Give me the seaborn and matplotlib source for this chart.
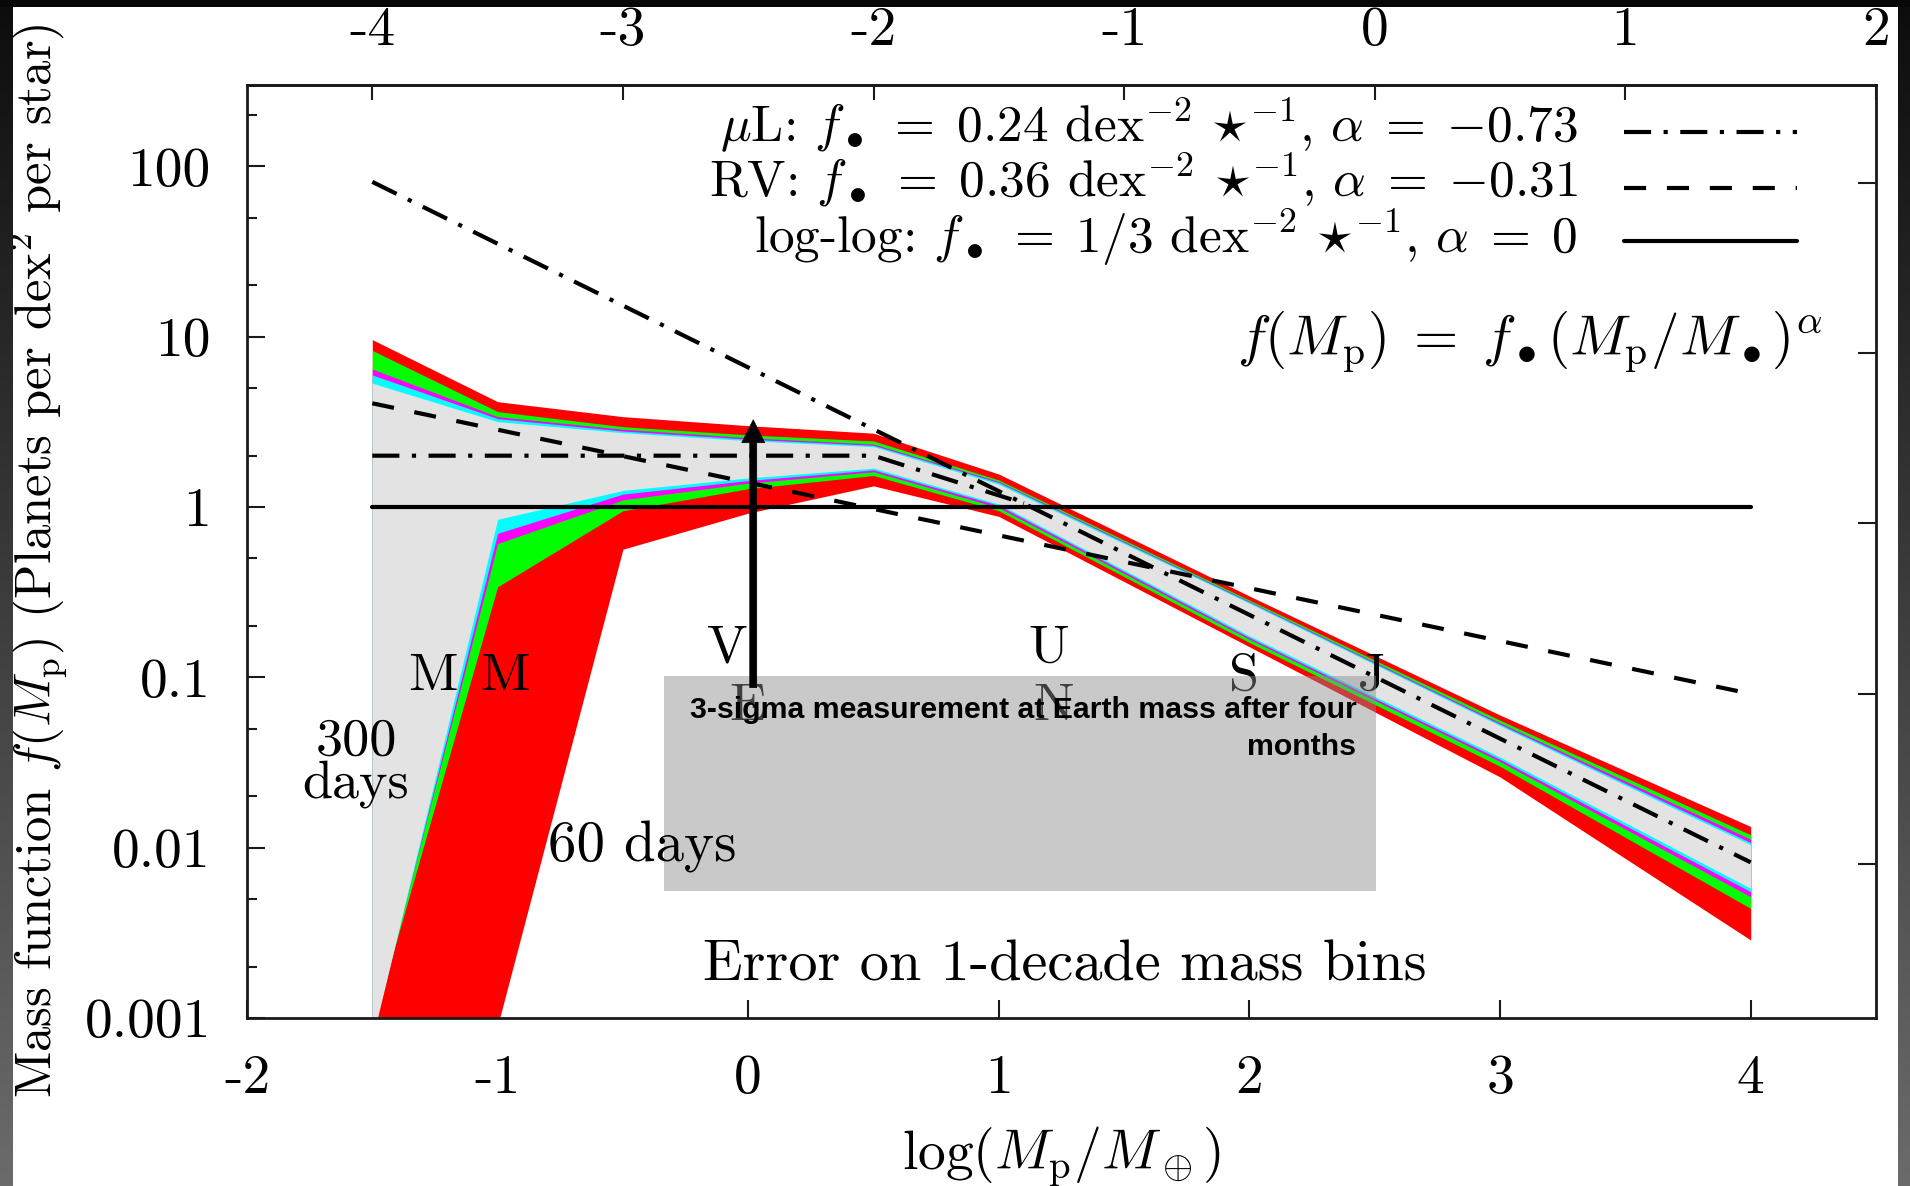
import warnings
warnings.filterwarnings("ignore")

import numpy as np
import pandas as pd
import matplotlib
matplotlib.use("Agg")
import matplotlib.pyplot as plt
import seaborn as sns
from matplotlib.patches import Rectangle
from matplotlib.ticker import LogLocator, NullLocator, NullFormatter, FixedLocator

# -------------------------------------------------
# Plot Settings
# -------------------------------------------------
sns.set_style("ticks")
plt.rcParams["font.family"] = ["cmr10", "DejaVu Serif"]
plt.rcParams["mathtext.fontset"] = "cm"
plt.rcParams["axes.unicode_minus"] = False
plt.rcParams["axes.formatter.use_mathtext"] = True
plt.rcParams["text.color"] = "black"
plt.rcParams["axes.labelcolor"] = "black"
plt.rcParams["xtick.color"] = "black"
plt.rcParams["ytick.color"] = "black"

# -------------------------------------------------
# Data
# -------------------------------------------------
mass_nodes = [-1.5, -1.0, -0.5, 0.0, 0.5, 1.0, 2.0, 3.0, 4.0]

red_hi = [9.6, 4.15, 3.39, 3.0, 2.71, 1.56, 0.30, 0.060, 0.0133]
green_hi = [8.3, 3.63, 2.96, 2.65, 2.44, 1.44, 0.284, 0.056, 0.0119]
magenta_hi = [6.45, 3.39, 2.86, 2.55, 2.34, 1.41, 0.279, 0.054, 0.0112]
cyan_hi = [5.96, 3.30, 2.79, 2.50, 2.30, 1.39, 0.276, 0.053, 0.0107]
grey_hi = [5.33, 3.17, 2.73, 2.45, 2.26, 1.36, 0.272, 0.052, 0.0104]

grey_lo = [7.5e-4, 0.846, 1.25, 1.48, 1.69, 1.04, 0.175, 0.034, 0.00577]
cyan_lo = [7.8e-4, 0.70, 1.19, 1.43, 1.65, 1.02, 0.171, 0.033, 0.00551]
magenta_lo = [8.2e-4, 0.61, 1.10, 1.38, 1.61, 0.99, 0.167, 0.032, 0.00515]
green_lo = [9.0e-4, 0.34, 0.95, 1.28, 1.53, 0.95, 0.160, 0.030, 0.0044]
red_lo = [5e-4, 9e-4, 0.565, 0.92, 1.33, 0.88, 0.151, 0.026, 0.00287]

# model lines
ul_x = [-1.5, 4.0]
ul_y = [81.0, 0.0082]
ul_flat_x = [-1.5, 0.5, 1.1]
ul_flat_y = [2.0, 2.0, 1.05]
rv_x = [-1.5, 4.0]
rv_y = [4.06, 0.080]
loglog_x = [-1.5, 4.0]
loglog_y = [1.0, 1.0]

# solar system planets
planet_labels = ["M", "M", "V", "E", "U", "N", "S", "J"]
planet_x = [-1.26, -0.97, -0.085, 0.0, 1.2, 1.22, 1.98, 2.49]
planet_y = [0.0842, 0.0842, 0.1235, 0.0561, 0.1235, 0.0561, 0.0842, 0.0842]

bottom_ticks = [-2, -1, 0, 1, 2, 3, 4]
top_ticks = [-4, -3, -2, -1, 0, 1, 2]
y_ticks = [0.001, 0.01, 0.1, 1, 10, 100]
y_tick_labels = ["0.001", "0.01", "0.1", "1", "10", "100"]

key_labels = [
    r"$\mu$L: $f_\bullet\;=\;0.24$ dex$^{-2}$ $\star^{-1}$, $\alpha\;=\;{-0.73}$",
    r"RV: $f_\bullet\;=\;0.36$ dex$^{-2}$ $\star^{-1}$, $\alpha\;=\;{-0.31}$",
    r"log-log: $f_\bullet\;=\;1/3$ dex$^{-2}$ $\star^{-1}$, $\alpha\;=\;0$",
]

DASHDOT = (0, (6.5, 3, 1, 3))
DASHED = (0, (5.3, 5.0))

# -------------------------------------------------
# Figure
# -------------------------------------------------
fig = plt.figure(figsize=(19.10, 11.86), dpi=100)
fig.patch.set_facecolor("white")
ax = fig.add_axes([247 / 1910, 1 - 1018 / 1186, (1876 - 247) / 1910, (1018 - 85) / 1186])
ax.set_facecolor("white")
ax.set_yscale("log")
ax.set_xlim(-2, 4.5)
ax.set_ylim(0.001, 300)

# error bands, outermost first
layers = [
    (red_lo, red_hi, "#ff0000"),
    (green_lo, green_hi, "#00ff00"),
    (magenta_lo, magenta_hi, "#ff00ff"),
    (cyan_lo, cyan_hi, "#00ffff"),
    (grey_lo, grey_hi, "#e3e3e3"),
]
for lo, hi, col in layers:
    ax.fill_between(mass_nodes, lo, hi, color=col, linewidth=0, zorder=1)

# model lines
sns.lineplot(x=loglog_x, y=loglog_y, ax=ax, color="black", lw=3,
             estimator=None, sort=False, zorder=3)
sns.lineplot(x=rv_x, y=rv_y, ax=ax, color="black", lw=3, linestyle=DASHED,
             estimator=None, sort=False, zorder=3)
sns.lineplot(x=ul_x, y=ul_y, ax=ax, color="black", lw=3, linestyle=DASHDOT,
             estimator=None, sort=False, zorder=3)
sns.lineplot(x=ul_flat_x, y=ul_flat_y, ax=ax, color="black", lw=3, linestyle=DASHDOT,
             estimator=None, sort=False, zorder=3)

# planet letters
for lab, px, py in zip(planet_labels, planet_x, planet_y):
    ax.text(px, py, lab, ha="center", va="baseline", fontsize=39, zorder=4)

ax.text(-1.565, 0.035, "300", ha="center", va="baseline", fontsize=39, zorder=4)
ax.text(-1.565, 0.0196, "days", ha="center", va="baseline", fontsize=39, zorder=4)
ax.text(-0.798, 0.00828, "60 days", ha="left", va="baseline", fontsize=41, zorder=8)
ax.text(0.5018, 0.0407, "Error on 1-decade mass bins", transform=ax.transAxes,
        ha="center", va="baseline", fontsize=42, zorder=4)

# overlay note box
ax.add_patch(Rectangle((-0.335, 0.00556), 2.838, 0.1018 - 0.00556,
                       facecolor="#8a8a8a", alpha=0.46, edgecolor="none", zorder=5))
ax.annotate("", xy=(0.02, 3.25), xytext=(0.02, 0.087),
            arrowprops=dict(facecolor="black", edgecolor="black", width=5,
                            headwidth=16.5, headlength=16.5, shrink=0, lw=0.5),
            zorder=6)
ax.text(2.427, 0.0577, "3-sigma measurement at Earth mass after four",
        ha="right", va="baseline", fontsize=21.8, fontweight="bold", color="black",
        family=["Liberation Sans", "DejaVu Sans"], zorder=7)
ax.text(2.427, 0.0352, "months", ha="right", va="baseline", fontsize=21.8,
        fontweight="bold", color="black", family=["Liberation Sans", "DejaVu Sans"], zorder=7)

# key (right-aligned, gnuplot style)
key_base = [0.9393, 0.880, 0.8204]
key_line_y = [0.9496, 0.8901, 0.8328]
key_styles = [DASHDOT, DASHED, "-"]
for lab, yb, yl, ls in zip(key_labels, key_base, key_line_y, key_styles):
    ax.text(0.8168, yb, lab, transform=ax.transAxes, ha="right", va="baseline",
            fontsize=37, zorder=4)
    ax.plot([0.8453, 0.9515], [yl, yl], transform=ax.transAxes, color="black",
            lw=3, linestyle=ls, zorder=4)

ax.text(0.967, 0.7106, r"$f(M_{\rm p})\;=\;f_\bullet(M_{\rm p}/M_\bullet)^\alpha$",
        transform=ax.transAxes, ha="right", va="baseline", fontsize=41, zorder=4)

# -------------------------------------------------
# Axes, ticks, labels
# -------------------------------------------------
for sp in ax.spines.values():
    sp.set_linewidth(2)
    sp.set_color("#1a1a1a")

ax.set_xticks(bottom_ticks)
ax.set_xticklabels([str(t) for t in bottom_ticks])
ax.xaxis.set_minor_locator(NullLocator())
ax.yaxis.set_major_locator(FixedLocator(y_ticks))
ax.set_yticklabels(y_tick_labels)
ax.yaxis.set_minor_locator(LogLocator(base=10, subs=(2.0, 5.0)))
ax.yaxis.set_minor_formatter(NullFormatter())
ax.tick_params(axis="both", which="major", direction="in", length=13, width=1.5,
               labelsize=40, color="#1a1a1a")
ax.tick_params(axis="both", which="minor", direction="in", length=7.5, width=1.5,
               color="#1a1a1a")
ax.tick_params(axis="x", top=False, pad=26)
ax.tick_params(axis="y", right=True, which="both", pad=26)

top = ax.secondary_xaxis("top", functions=(lambda v: v - 2.5, lambda v: v + 2.5))
top.set_xticks(top_ticks)
top.set_xticklabels([str(t) for t in top_ticks])
top.tick_params(direction="in", length=11, width=1.5, labelsize=40, pad=21, color="#1a1a1a")
top.spines["top"].set_linewidth(2)
top.spines["top"].set_color("#1a1a1a")

right = ax.twinx()
right.set_yscale("log")
right.set_ylim(0.001 / 0.8, 300 / 0.8)
right.yaxis.set_minor_locator(NullLocator())
right.tick_params(which="major", direction="in", length=13, width=1.5,
                  labelright=False, color="#1a1a1a")
for sp in right.spines.values():
    sp.set_visible(False)

ax.set_xlabel(r"log$(M_{\rm p}/M_\oplus)$", fontsize=40, va="top")
ax.xaxis.set_label_coords(0.5, -0.114)
ax.set_ylabel(r"Mass function $f(M_{\rm p})$ (Planets per dex$^2$ per star)", fontsize=36.5)
ax.yaxis.set_label_coords(-0.1087, 0.49)

# -------------------------------------------------
# Screenshot frame
# -------------------------------------------------
frame = np.zeros((1186, 1910, 4))
ramp = np.linspace(0.05, 0.42, 1186)
for k in range(3):
    frame[:, :13, k] = ramp[:, None]
    frame[:, 1897:, k] = ramp[:, None]
frame[:, :13, 3] = 1
frame[:, 1897:, 3] = 1
frame[:7, :, :3] = 0.03
frame[:7, :, 3] = 1
over = fig.add_axes([0, 0, 1, 1], zorder=20)
over.imshow(frame, aspect="auto", interpolation="nearest")
over.axis("off")

fig.savefig("out.png", dpi=100, facecolor=fig.get_facecolor())
